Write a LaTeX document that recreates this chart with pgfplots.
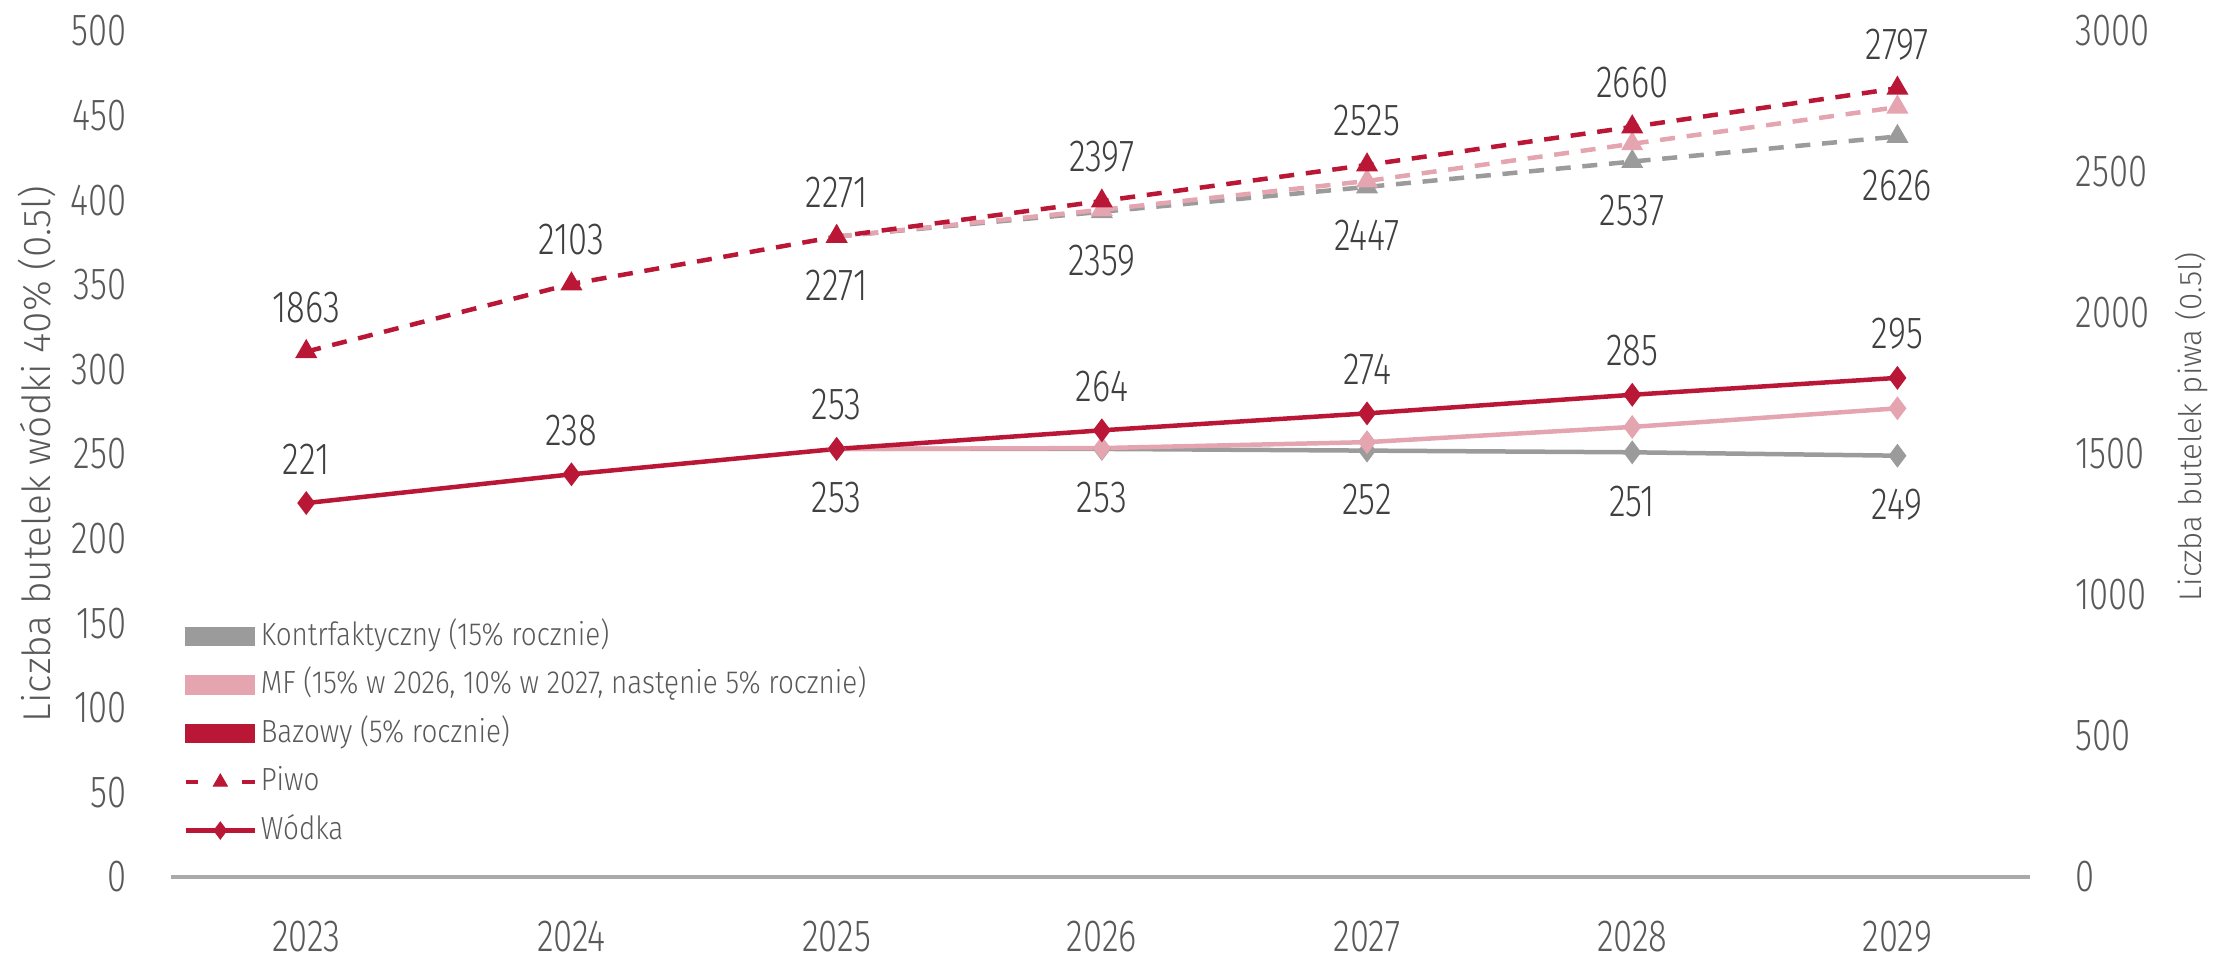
\documentclass[border=0pt]{standalone}
\usepackage{fontspec}
\setmainfont{Fira Sans}[UprightFont=* Light, FakeStretch=0.77]
\newfontfamily\labelfont{Fira Sans}[UprightFont=* Light]
\newfontfamily\legendfont{Fira Sans}[UprightFont=* Light, FakeStretch=0.87]
\usepackage{pgfplots}
\pgfplotsset{compat=1.18}
\definecolor{cred}{HTML}{BA1737}
\definecolor{cpink}{HTML}{E4A5B1}
\definecolor{cgray}{HTML}{9B9B9B}
\definecolor{ctick}{HTML}{595959}
\definecolor{clab}{HTML}{404040}
\newcommand{\tickfont}{\fontsize{18}{21}\selectfont}
\newcommand{\legfont}{\legendfont\fontsize{12.8}{15}\selectfont}
\pgfplotsset{
  base/.style={
    width=743.6pt, height=338.4pt, scale only axis,
    xmin=2022.49, xmax=2029.5,
    major tick length=0pt,
    /pgf/number format/.cd, 1000 sep={}, assume math mode=true, /pgfplots/.cd,
    tick label style={font=\tickfont, text=ctick},
    clip=false,
  },
  lab above/.style={nodes near coords, every node near coord/.append style={anchor=center, yshift=17.6pt, font=\tickfont, text=clab}},
  lab below/.style={nodes near coords, every node near coord/.append style={anchor=center, yshift=-19.5pt, font=\tickfont, text=clab}},
  vline/.style={line width=1.8pt, mark=diamond*, mark size=3.3pt},
  bline/.style={line width=1.8pt, dash pattern=on 6pt off 4.7pt, mark=triangle*, mark size=3.3pt, mark options={solid}},
}
\begin{document}
\begin{tikzpicture}
\begin{axis}[base,
  axis x line*=bottom, axis y line*=left,
  x axis line style={cgray!85, line width=1.3pt, -},
  y axis line style={draw=none},
  xtick={2023,2024,2025,2026,2027,2028,2029},
  xticklabel style={yshift=-24pt, inner sep=0pt, anchor=center},
  ymin=0, ymax=500, ytick={0,50,...,500},
  yticklabel style={inner sep=0pt, anchor=east, xshift=-17.6pt},
  ylabel={Liczba butelek wódki 40\% (0.5l)},
  every axis y label/.style={at={(axis description cs:-0.0721,0.5)}, rotate=90, anchor=center, font=\labelfont\fontsize{15.5}{18}\selectfont, text=ctick},
]
\addplot[cgray, vline, lab below] coordinates {(2025,253) (2026,253) (2027,252) (2028,251) (2029,249)};
\addplot[cpink, vline] coordinates {(2025,253) (2026,253.5) (2027,257) (2028,266) (2029,277)};
\addplot[cred, vline, lab above] coordinates {(2023,221) (2024,238) (2025,253) (2026,264) (2027,274) (2028,285) (2029,295)};
\coordinate (bl) at (rel axis cs:0,0);
\end{axis}
\begin{axis}[base,
  axis x line=none, axis y line*=right,
  y axis line style={draw=none},
  ymin=0, ymax=3000, ytick={0,500,...,3000},
  yticklabel style={inner sep=0pt, anchor=west, xshift=18pt},
  ylabel={Liczba butelek piwa (0.5l)},
  every axis y label/.style={at={(axis description cs:1.0871,0.532)}, rotate=90, anchor=center, font=\labelfont\fontsize{12.5}{15}\selectfont, text=ctick},
  legend style={at={(axis description cs:0.0065,0.3055)}, anchor=north west, draw=none, fill=none,
    font=\legfont, text=ctick, row sep=5.4pt, inner sep=0pt,
    nodes={inner sep=1.5pt, text height=9pt, text depth=2pt}},
  legend cell align=left,
]
\addlegendimage{legend image code/.code={\fill[cgray] (0pt,-3.65pt) rectangle (27.6pt,3.65pt);}}
\addlegendentry{Kontrfaktyczny (15\% rocznie)}
\addlegendimage{legend image code/.code={\fill[cpink] (0pt,-3.65pt) rectangle (27.6pt,3.65pt);}}
\addlegendentry{MF (15\% w 2026, 10\% w 2027, nastęnie 5\% rocznie)}
\addlegendimage{legend image code/.code={\fill[cred] (0pt,-3.65pt) rectangle (27.6pt,3.65pt);}}
\addlegendentry{Bazowy (5\% rocznie)}
\addlegendimage{legend image code/.code={\draw[cred, line width=1.8pt] (0pt,0pt)--(5pt,0pt) (22.6pt,0pt)--(27.6pt,0pt); \path[cred, mark=triangle*, mark size=3.2pt] plot coordinates {(13.8pt,0pt)};}}
\addlegendentry{Piwo}
\addlegendimage{legend image code/.code={\draw[cred, line width=1.8pt] (0pt,0pt)--(27.6pt,0pt); \path[cred, mark=diamond*, mark size=3.4pt] plot coordinates {(13.8pt,0pt)};}}
\addlegendentry{Wódka}
\addplot[cgray, bline, lab below] coordinates {(2025,2271) (2026,2359) (2027,2447) (2028,2537) (2029,2626)};
\addplot[cpink, bline] coordinates {(2025,2271) (2026,2366) (2027,2468) (2028,2600) (2029,2730)};
\addplot[cred, bline, lab above] coordinates {(2023,1863) (2024,2103) (2025,2271) (2026,2397) (2027,2525) (2028,2660) (2029,2797)};
\coordinate (tr) at (rel axis cs:1,1);
\end{axis}
\path (bl) ++(-68.4pt,-32pt) coordinate (A);
\path (tr) ++(75.2pt,12.4pt) coordinate (B);
\pgfresetboundingbox
\useasboundingbox (A) rectangle (B);
\end{tikzpicture}
\end{document}
